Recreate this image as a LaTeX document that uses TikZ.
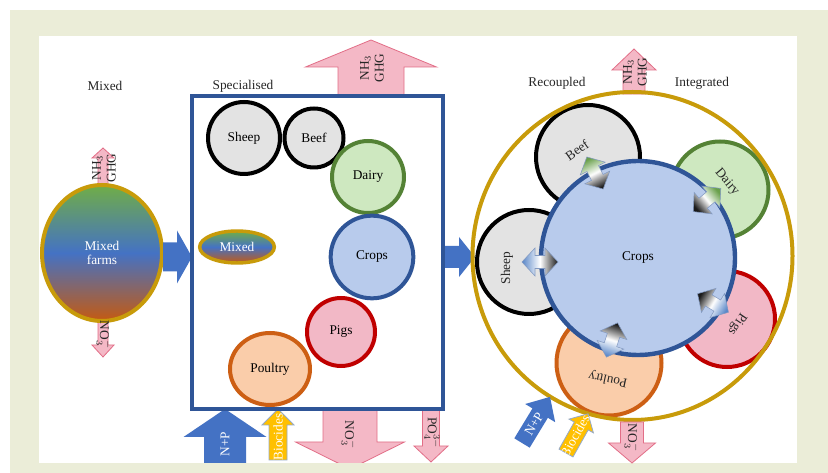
\documentclass[tikz,border=0pt]{standalone}
\usepackage{fontspec}
\setmainfont{Liberation Serif}
\usetikzlibrary{shapes.geometric}
\definecolor{beige}{RGB}{235,237,216}
\definecolor{gold}{RGB}{200,155,10}
\definecolor{boxblue}{RGB}{47,85,151}
\definecolor{arrblue}{RGB}{68,114,196}
\definecolor{pinkf}{RGB}{244,184,198}
\definecolor{pinkd}{RGB}{226,110,135}
\definecolor{yel}{RGB}{255,192,0}
\definecolor{yeld}{RGB}{150,170,200}
\definecolor{greyf}{RGB}{227,227,227}
\definecolor{dairyf}{RGB}{206,232,192}
\definecolor{dairyd}{RGB}{84,130,53}
\definecolor{cropf}{RGB}{184,203,236}
\definecolor{pigf}{RGB}{242,184,198}
\definecolor{pigd}{RGB}{192,0,0}
\definecolor{poulf}{RGB}{250,205,170}
\definecolor{pould}{RGB}{205,95,20}
\definecolor{mgreen}{RGB}{112,173,71}
\definecolor{morange}{RGB}{197,90,17}
\definecolor{dgreen}{RGB}{105,160,75}
\definecolor{dblue}{RGB}{90,135,200}
\newcommand\blockarr[7]{%
  \begin{scope}[shift={#2}, rotate=#3]
    \path[#1] (0,-#6) -- (#4,-#6) -- (#4,-#7) -- (#5,0) -- (#4,#7) -- (#4,#6) -- (0,#6) -- cycle;
  \end{scope}}
\newcommand\dblarr[3]{%
  \begin{scope}[shift={#1}, rotate=#2]
    \path[draw=boxblue!60, line width=0.4pt, top color=#3, bottom color=black!90, middle color=white, shading angle=#2-90]
      (-18,0) -- (-5,-14) -- (-5,-6.5) -- (5,-6.5) -- (5,-14) -- (18,0) -- (5,14) -- (5,6.5) -- (-5,6.5) -- (-5,14) -- cycle;
  \end{scope}}
\begin{document}
\begin{tikzpicture}[x=0.75pt,y=-0.75pt,font=\fontsize{10}{11}\selectfont,
  pinkarr/.style={fill=pinkf,draw=pinkd,line width=0.6pt},
  bluearr/.style={fill=arrblue},
  yelarr/.style={fill=yel,draw=yeld,line width=0.6pt},
  disc/.style={circle,line width=3pt,inner sep=0pt},
  lbl/.style={inner sep=0pt,text=black!85},
  wlbl/.style={inner sep=0pt,text=white},
  gradell/.style={ellipse,draw=gold,top color=mgreen,bottom color=morange,middle color=arrblue,inner sep=0pt,text=white}]
\fill[white] (0,0) rectangle (828,473);
\fill[beige] (10,10) rectangle (828,473);
\fill[white] (39,36) rectangle (797,463);
\useasboundingbox (0,0) rectangle (828,473);

% titles
\node[lbl] (tMixed) at (105,86) {Mixed};
\node[lbl] (tSpec) at (243,86) {Specialised};
\node[lbl] (tRec) at (557,83) {Recoupled};
\node[lbl] (tInt) at (702,83) {Integrated};

% ---------- Mixed farms ----------
\blockarr{pinkarr}{(103,190)}{90}{32}{42}{5}{11}
\blockarr{pinkarr}{(103,316)}{-90}{29}{41}{5}{11}
\node[gradell, line width=3pt, minimum width=90pt, minimum height=102pt, align=center] (farms) at (102,253) {Mixed\\farms};
\node[lbl, rotate=90, align=center] (nhA) at (104,168) {NH$_3$\\GHG};
\node[lbl, rotate=-90] (noA) at (104,335) {NO$_3^-$};
\blockarr{bluearr}{(163,257)}{0}{14}{29}{14.5}{26.5}

% ---------- Specialised ----------
\blockarr{pinkarr}{(371,97)}{90}{30}{57}{33}{65.5}
\node[lbl, rotate=90, align=center] (nhB) at (372,68) {NH$_3$\\GHG};
\begin{scope}
\clip (39,36) rectangle (797,463);
\blockarr{bluearr}{(225,463)}{90}{26}{54}{21}{41.5}
\blockarr{yelarr}{(278,460)}{90}{35}{51}{9}{16}
\blockarr{pinkarr}{(350,409)}{-90}{33}{60}{27}{54.5}
\blockarr{pinkarr}{(431,410)}{-90}{36}{52}{8.5}{17}
\end{scope}
\node[wlbl, rotate=90] (np1) at (225,444) {N+P};
\node[wlbl, rotate=90] (bio1) at (278,437) {Biocides};
\node[lbl, rotate=-90] (no1) at (349,435) {NO$_3^-$};
\node[lbl, rotate=-90] (po1) at (432,433) {PO$_4^{3-}$};
\node[draw=boxblue, line width=3pt, minimum width=188.25pt, minimum height=234.75pt, inner sep=0pt] (spbox) at (317.5,252.5) {};
\node[disc, draw=black, fill=greyf, minimum size=54pt] (sheepA) at (244,138) {Sheep};
\node[disc, draw=black, fill=greyf, minimum size=44.25pt] (beefA) at (314,138) {Beef};
\node[disc, draw=dairyd, fill=dairyf, minimum size=54pt] (dairyA) at (368,177) {Dairy};
\node[disc, draw=boxblue, fill=cropf, minimum size=62pt] (cropsA) at (372,257) {Crops};
\node[gradell, line width=2.6pt, minimum width=56pt, minimum height=24pt] (mixedA) at (237,247) {Mixed};
\node[disc, draw=pigd, fill=pigf, minimum size=51pt] (pigsA) at (341,332) {Pigs};
\node[ellipse, line width=3pt, draw=pould, fill=poulf, minimum width=60pt, minimum height=54pt, inner sep=0pt] (poulA) at (270,369) {Poultry};
\blockarr{bluearr}{(445,257)}{0}{14}{30}{11}{20}

% ---------- Recoupled / Integrated ----------
\blockarr{pinkarr}{(634,94)}{90}{24}{45}{11}{22}
\node[lbl, rotate=90, align=center] (nhC) at (635,72) {NH$_3$\\GHG};
\node[disc, draw=black, fill=greyf, minimum size=78pt] (beefB) at (588,157) {};
\node[disc, draw=dairyd, fill=dairyf, minimum size=72.75pt] (dairyB) at (720,190) {};
\node[disc, draw=black, fill=greyf, minimum size=78pt] (sheepB) at (529,262) {};
\node[disc, draw=pigd, fill=pigf, minimum size=72pt] (pigsB) at (727,319) {};
\node[disc, draw=pould, fill=poulf, minimum size=78.75pt] (poulB) at (609,363) {};
\node[ellipse, draw=gold, line width=3pt, minimum width=240pt, minimum height=246pt, inner sep=0pt] (ring) at (632.5,256) {};
\node[disc, draw=boxblue, fill=cropf, line width=3.3pt, minimum size=145.5pt] (cropsB) at (638,258) {Crops};
\node[lbl, rotate=35] (tbeef) at (577,150) {Beef};
\node[lbl, rotate=-50] (tdairy) at (727,182) {Dairy};
\node[lbl, rotate=90] (tsheep) at (507,268) {Sheep};
\node[lbl, rotate=-124] (tpigs) at (737,324) {Pigs};
\node[lbl, rotate=168] (tpoul) at (608,379) {Poultry};
\dblarr{(595,173)}{117}{dgreen}
\dblarr{(707,200)}{40}{dgreen}
\dblarr{(540,262)}{180}{dblue}
\dblarr{(713,303)}{-31}{dblue}
\dblarr{(612,340)}{-108}{dblue}
\blockarr{bluearr}{(522,443)}{58.7}{35}{54}{9}{17.5}
\node[wlbl, rotate=58.7] (np2) at (534,424) {N+P};
\blockarr{yelarr}{(566,453)}{60.6}{31}{45}{8}{14}
\node[wlbl, rotate=60.6] (bio2) at (575,436) {Biocides};
\blockarr{pinkarr}{(632,422)}{-90}{21}{41}{11.5}{23.5}
\node[lbl, rotate=-90] (no2) at (632,438) {NO$_3^-$};
\end{tikzpicture}
\end{document}
